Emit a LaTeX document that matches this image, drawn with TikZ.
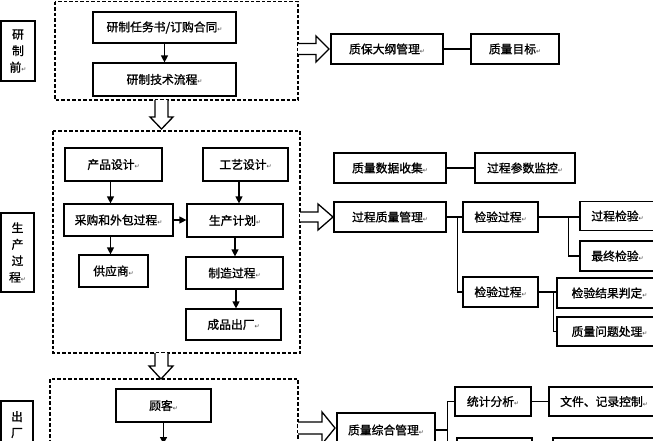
\documentclass[tikz,border=0pt]{standalone}
\usepackage{fontspec}
\setmainfont{Noto Sans CJK SC}[FakeBold=1.2]
\newfontfamily\symfont{DejaVu Sans}
\usetikzlibrary{arrows.meta,calc}
\newcommand\rt{{\symfont\fontsize{6}{6}\selectfont\textcolor{black!75}{↵}}}
\tikzset{
  bx/.style={draw, line width=1.2pt, inner sep=0pt, align=center, font=\fontsize{11.8}{13}\selectfont},
  vlab/.style={bx, font=\fontsize{11.8}{16.5}\selectfont},
  frm/.style={draw, line width=1.3pt, dash pattern=on 3.5pt off 2pt},
  arr/.style={line width=1.2pt, -{Triangle[length=7pt,width=7pt]}},
  ln/.style={line width=1.3pt},
  hollow/.style={draw, line width=1.3pt, fill=white, line join=miter}
}
\begin{document}
\begin{tikzpicture}[x=1pt,y=-1pt]
\useasboundingbox (0,0) rectangle (653,440);
\clip (0,0) rectangle (653,440);
\fill[white] (0,0) rectangle (653,440);

% dashed frames
\draw[frm] (55,1.5) rectangle (298,100);
\draw[frm] (53,131) rectangle (300,353);
\draw[frm] (50,379) rectangle (298,480);

% left labels
\node[vlab, minimum width=34pt, minimum height=60pt] (L1) at (18,51) {研\\制\\前\rt};
\node[vlab, minimum width=33pt, minimum height=79pt] (L2) at (17.5,252.5) {生\\产\\过\\程\rt};
\node[bx, minimum width=32pt, minimum height=80pt] (L3) at (17,441) {};
\node[font=\fontsize{11.8}{16}\selectfont, align=center, inner sep=0pt, anchor=north] (L3t) at (17,411) {出\\厂};

% top frame
\node[bx, minimum width=143pt, minimum height=31pt] (task) at (164.5,27.5) {研制任务书/订购合同\rt};
\node[bx, minimum width=143pt, minimum height=33pt] (flow) at (164.5,79.5) {研制技术流程\rt};
\draw[arr] (task.south) -- (flow.north);

% top right
\node[bx, minimum width=112pt, minimum height=30pt] (dg) at (387,49) {质保大纲管理\rt};
\node[bx, minimum width=88pt, minimum height=30pt] (mb) at (515,49) {质量目标\rt};
\draw[ln] (dg.east) -- (mb.west);

% middle frame
\node[bx, minimum width=97pt, minimum height=33pt] (pd) at (113.5,164.5) {产品设计\rt};
\node[bx, minimum width=85pt, minimum height=33pt] (gy) at (245.5,164.5) {工艺设计\rt};
\node[bx, minimum width=109pt, minimum height=32pt] (cg) at (118.5,220) {采购和外包过程\rt};
\node[bx, minimum width=96pt, minimum height=33pt] (jh) at (235,220.5) {生产计划\rt};
\node[bx, minimum width=69pt, minimum height=32pt] (gys) at (113.5,271) {供应商\rt};
\node[bx, minimum width=97pt, minimum height=32pt] (zz) at (234.5,273) {制造过程\rt};
\node[bx, minimum width=95pt, minimum height=31pt] (cp) at (233.5,324.5) {成品出厂\rt};
\draw[arr] ([xshift=-3pt]pd.south) -- ([xshift=-3pt]pd.south |- cg.north);
\draw[arr] ([xshift=-3pt]gys.north |- cg.south) -- ([xshift=-3pt]gys.north);
\draw[arr] ([xshift=4pt]jh.north |- gy.south) -- ([xshift=4pt]jh.north);
\draw[arr] (cg.east) -- (jh.west |- cg.east);
\draw[arr] (jh.south) -- (jh.south |- zz.north);
\draw[arr] ([xshift=1.5pt]zz.south) -- ([xshift=1.5pt]zz.south |- cp.north);

% middle right
\node[bx, minimum width=112pt, minimum height=30pt] (sj) at (390,168) {质量数据收集\rt};
\node[bx, minimum width=100pt, minimum height=30pt] (jk) at (525,168) {过程参数监控\rt};
\draw[ln] (sj.east) -- (jk.west);
\node[bx, minimum width=112pt, minimum height=30pt] (gczl) at (390,217) {过程质量管理\rt};
\node[bx, minimum width=75pt, minimum height=30pt] (jy1) at (500.5,217) {检验过程\rt};
\node[bx, minimum width=75pt, minimum height=30pt] (jy2) at (500.5,292) {检验过程\rt};
\node[bx, minimum width=75pt, minimum height=29pt] (gcjy) at (617.5,216) {过程检验\rt};
\node[bx, minimum width=75pt, minimum height=30pt] (zzjy) at (617.5,256) {最终检验\rt};
\node[bx, minimum width=105pt, minimum height=30pt] (jgpd) at (609.5,293) {检验结果判定\rt};
\node[bx, minimum width=105pt, minimum height=29pt] (zlwt) at (609.5,331.5) {质量问题处理\rt};
\draw[ln] (gczl.east) -- (jy1.west);
\draw[ln] (gczl.east) -- ++(11,0) |- (jy2.west);
\draw[ln] (jy1.east) -- (jy1.east -| gcjy.west);
\draw[ln] (jy1.east) -- ++(30,0) |- (zzjy.west);
\draw[ln] (jy2.east) -- (jy2.east -| jgpd.west);
\draw[ln] (jy2.east) -- ++(15,0) |- (zlwt.west);

% bottom frame
\node[bx, minimum width=95pt, minimum height=33pt] (gk) at (163.5,405.5) {顾客\rt};
\coordinate (gkend) at (163.5,444);
\draw[arr] (gk.south) -- (gkend);

% bottom right
\node[bx, minimum width=98pt, minimum height=34pt] (zhgl) at (386,430) {质量综合管理\rt};
\node[bx, minimum width=76pt, minimum height=29pt] (tjfx) at (493,401.5) {统计分析\rt};
\node[bx, minimum width=110pt, minimum height=29pt] (wj) at (604,401.5) {文件、记录控制\rt};
\node[bx, minimum width=75pt, minimum height=30pt] (bxa) at (494.5,453) {};
\node[bx, minimum width=107pt, minimum height=30pt] (bxb) at (606.5,453) {};
\draw[ln] (tjfx.east) -- (wj.west);
\draw[ln] (bxa.east) -- (bxb.west);
\draw[ln] (zhgl.east) -- ++(12,0) |- (tjfx.west);
\draw[ln] (zhgl.east) -- ++(12,0) |- (bxa.west);

% hollow arrows down
\draw[hollow] (155,100) -- (155,117) -- (150,117) -- (161.5,129) -- (173,117) -- (168,117) -- (168,100);
\draw[hollow] (155,353) -- (155,366) -- (149,366) -- (161,379) -- (173,366) -- (168,366) -- (168,353);
% hollow arrows right
\draw[hollow] (298,43.5) -- (316,43.5) -- (316,36) -- (329,49) -- (316,62) -- (316,54.5) -- (298,54.5);
\draw[hollow] (300,212) -- (318,212) -- (318,204) -- (333,217) -- (318,230) -- (318,222) -- (300,222);
\draw[hollow] (298,422) -- (322,422) -- (322,412) -- (335,428) -- (322,444) -- (322,434) -- (298,434);
\end{tikzpicture}
\end{document}
